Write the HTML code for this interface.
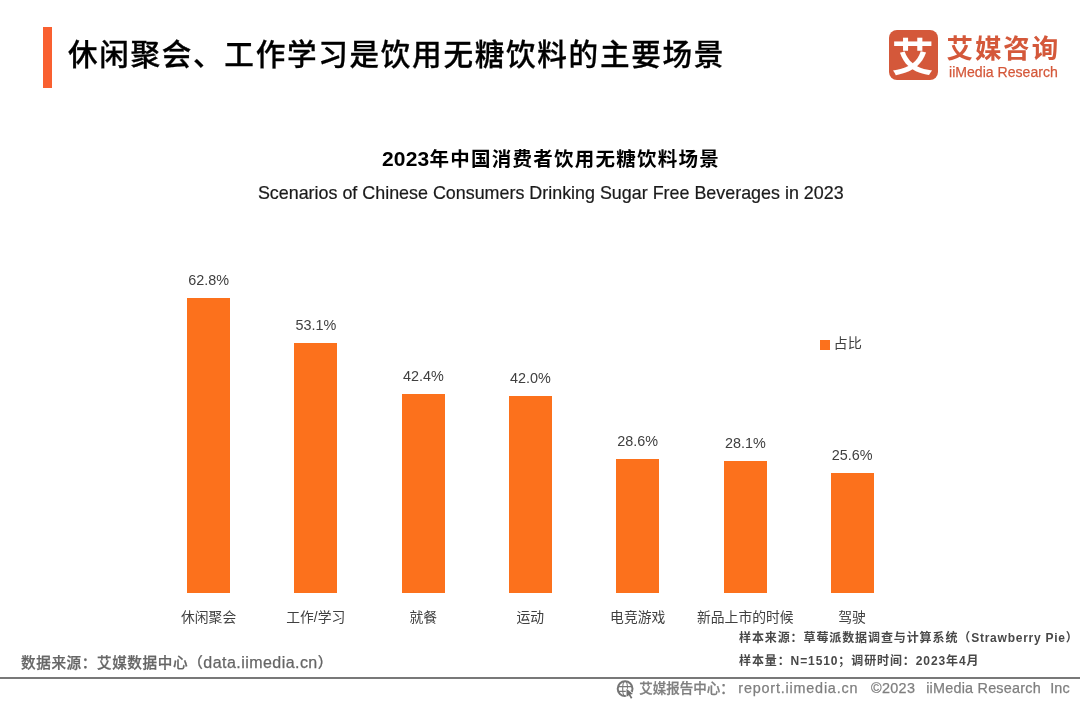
<!DOCTYPE html>
<html lang="zh-CN">
<head>
<meta charset="utf-8">
<title>休闲聚会、工作学习是饮用无糖饮料的主要场景</title>
<style>
html,body{margin:0;padding:0;background:#fff;}
body{width:1080px;height:702px;position:relative;overflow:hidden;font-family:"Liberation Sans","Noto Sans CJK SC",sans-serif;color:#404040;}
.abs{position:absolute;white-space:nowrap;line-height:1;}
#accent{position:absolute;left:42.85px;top:26.85px;width:9.5px;height:61.45px;background:#f96030;}
#title{left:67.9px;top:40.1px;font-size:29.6px;font-weight:500;color:#000;letter-spacing:1.7px;-webkit-text-stroke:0.3px #000;}
#logo-box{position:absolute;left:889.4px;top:30.2px;width:49px;height:50px;border-radius:8px;background:#d4583a;overflow:hidden;}
#logo-glyph{left:2.3px;top:7px;font-size:42px;font-weight:700;transform:scaleY(0.91);color:#fff;font-family:"Liberation Sans","Noto Sans CJK SC",sans-serif;}
#logo-cn{left:946.5px;top:36px;font-size:26.5px;font-weight:700;color:#d4583a;letter-spacing:1.9px;}
#logo-en{left:948.5px;top:63.5px;font-size:15.4px;color:#d4583a;-webkit-text-stroke:0.25px #d4583a;transform:scaleX(0.915);transform-origin:0 0;}
#ctitle{left:0;width:1102px;text-align:center;top:148.2px;font-size:19.5px;font-weight:700;color:#000;letter-spacing:1.25px;}
#csub{left:0;width:1101.5px;text-align:center;top:184.5px;font-size:17.9px;color:#1a1a1a;-webkit-text-stroke:0.2px #1a1a1a;}
.bar{position:absolute;width:43.2px;background:#fc711c;}
.val{width:80px;text-align:center;font-size:14.4px;color:#404040;transform:scaleY(1.08);transform-origin:50% 85%;}
.cat{width:140px;text-align:center;font-size:13.8px;color:#404040;}
#leg-sq{position:absolute;left:820px;top:340px;width:9.6px;height:9.5px;background:#fc711c;}
#leg-tx{left:833.6px;top:336px;font-size:14.2px;color:#404040;}
.note{font-size:12px;font-weight:700;color:#484848;letter-spacing:0.9px;}
#src{left:21px;top:654.5px;font-size:14.6px;font-weight:500;color:#666;letter-spacing:0.6px;-webkit-text-stroke:0.25px #666;line-height:16px;}
#rule{position:absolute;left:0;top:677.1px;width:1080px;height:1.7px;background:#787878;}
.foot{top:681.5px;font-size:13.3px;font-weight:500;color:#7f7f7f;letter-spacing:0.9px;}
.lat{-webkit-text-stroke:0.25px #7f7f7f;font-size:14.4px;top:681.2px;}
#f1{font-size:13.5px;letter-spacing:0;-webkit-text-stroke:0.25px #7f7f7f;}
#globe{position:absolute;left:616px;top:679.6px;width:19px;height:19px;}
</style>
</head>
<body>
<div id="accent"></div>
<div id="title" class="abs">休闲聚会、工作学习是饮用无糖饮料的主要场景</div>

<div id="logo-box"><div id="logo-glyph" class="abs">艾</div></div>
<div id="logo-cn" class="abs">艾媒咨询</div>
<div id="logo-en" class="abs">iiMedia Research</div>

<div id="ctitle" class="abs"><span style="font-size:21px;letter-spacing:0.2px">2023</span>年中国消费者饮用无糖饮料场景</div>
<div id="csub" class="abs">Scenarios of Chinese Consumers Drinking Sugar Free Beverages in 2023</div>

<div class="bar" style="left:186.8px;top:298.05px;height:294.95px;width:43.6px"></div>
<div class="bar" style="left:294.2px;top:343.05px;height:249.95px"></div>
<div class="bar" style="left:401.7px;top:393.9px;height:199.1px"></div>
<div class="bar" style="left:508.7px;top:395.8px;height:197.2px"></div>
<div class="bar" style="left:616.1px;top:458.7px;height:134.3px"></div>
<div class="bar" style="left:723.7px;top:461px;height:132px"></div>
<div class="bar" style="left:830.5px;top:473.1px;height:119.9px"></div>

<div class="abs val" style="left:168.6px;top:272.5px">62.8%</div>
<div class="abs val" style="left:275.8px;top:317.5px">53.1%</div>
<div class="abs val" style="left:383.3px;top:368.5px">42.4%</div>
<div class="abs val" style="left:490.3px;top:370.5px">42.0%</div>
<div class="abs val" style="left:597.7px;top:433.5px">28.6%</div>
<div class="abs val" style="left:705.3px;top:435.5px">28.1%</div>
<div class="abs val" style="left:812.1px;top:447.5px">25.6%</div>

<div class="abs cat" style="left:138.6px;top:611.2px">休闲聚会</div>
<div class="abs cat" style="left:245.8px;top:611.2px">工作/学习</div>
<div class="abs cat" style="left:353.3px;top:611.2px">就餐</div>
<div class="abs cat" style="left:460.3px;top:611.2px">运动</div>
<div class="abs cat" style="left:567.7px;top:611.2px">电竞游戏</div>
<div class="abs cat" style="left:675.3px;top:611.2px">新品上市的时候</div>
<div class="abs cat" style="left:782.1px;top:611.2px">驾驶</div>

<div id="leg-sq"></div>
<div id="leg-tx" class="abs">占比</div>

<div class="abs note" style="left:739px;top:631.5px">样本来源：草莓派数据调查与计算系统（<span style="letter-spacing:0.75px">Strawberry Pie</span>）</div>
<div class="abs note" style="left:739px;top:654.5px">样本量：N=1510；调研时间：2023年4月</div>

<div id="src" class="abs">数据来源：艾媒数据中心（<span style="font-size:16px;letter-spacing:0.45px">data.iimedia.cn</span>）</div>
<div id="rule"></div>
<svg id="globe" viewBox="0 0 19 19" fill="none" stroke="#757575">
<circle cx="9.1" cy="8.7" r="7.4" stroke-width="2"/>
<ellipse cx="9.1" cy="8.7" rx="2.4" ry="7.4" stroke-width="1.1"/>
<path d="M2.2 6.6H16M2.2 11.4H16" stroke-width="1.1"/>
<path d="M10.5 8.7L17 13.9L14.3 14.5L16.4 17.8L14.9 18.7L12.9 15.3L10.5 16.8Z" fill="#6e6e6e" stroke="#fff" stroke-width="1.4" paint-order="stroke" stroke-linejoin="round"/>
</svg>
<div class="abs foot" id="f1" style="left:639.3px">艾媒报告中心：</div>
<div class="abs foot lat" id="f2" style="left:738.3px;letter-spacing:0.8px">report.iimedia.cn</div>
<div class="abs foot lat" id="f3" style="left:871px;letter-spacing:0.33px">©2023</div>
<div class="abs foot lat" id="f4" style="left:926.2px;letter-spacing:0.22px">iiMedia Research</div>
<div class="abs foot lat" id="f5" style="left:1050.2px;letter-spacing:0.15px">Inc</div>
</body>
</html>
